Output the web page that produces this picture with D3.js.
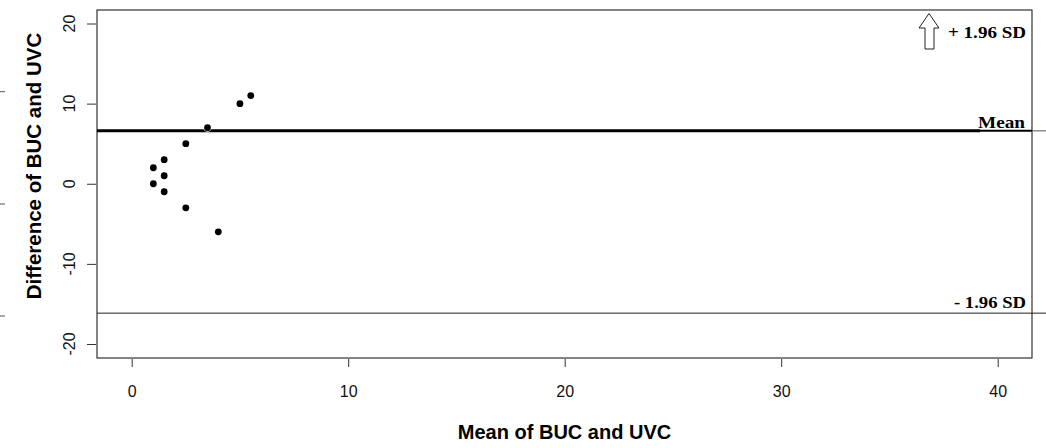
<!DOCTYPE html>
<html>
<head>
<meta charset="utf-8">
<script src="https://cdn.jsdelivr.net/npm/d3@7"></script>
<style>
  body { margin: 0; background: #fff; }
  svg { display: block; }
</style>
</head>
<body>
<svg id="chart"></svg>
<script>
// Bland-Altman points: mean of BUC and UVC vs. their difference
const meanVals = [1, 1, 1.5, 1.5, 1.5, 2.5, 2.5, 3.5, 4, 5, 5.5]
const diffVals = [2, 0, 3, 1, -1, 5, -3, 7, -6, 10, 11]
const xTicks = [0, 10, 20, 30, 40]
const yTicks = [-20, -10, 0, 10, 20]
const meanDiff = 6.6
const lowerLimit = -16.15

const W = 1046, H = 448
const box = {left: 97, right: 1032, top: 10, bottom: 358}
const sans = '"Liberation Sans", Arial, sans-serif'
const serif = '"Liberation Serif", "Times New Roman", serif'

const svg = d3.select('#chart').attr('width', W).attr('height', H)

// scales (R-style, ticks at 0..40 and -20..20)
const x = d3.scaleLinear().domain([0, 40]).range([131.7, 997.7])
const y = d3.scaleLinear().domain([-20, 20]).range([344, 23.5])

// plot box
svg.append('rect')
  .attr('x', box.left).attr('y', box.top)
  .attr('width', box.right - box.left).attr('height', box.bottom - box.top)
  .attr('fill', 'none').attr('stroke', '#333').attr('stroke-width', 1.2)

// x axis (ticks only, no axis line)
const xAxis = svg.append('g')
  .attr('transform', 'translate(0,' + (box.bottom + 1) + ')')
  .call(d3.axisBottom(x).tickValues(xTicks).tickSize(8).tickPadding(19))
xAxis.select('.domain').remove()
xAxis.selectAll('line').attr('stroke', '#333')
xAxis.selectAll('text')
  .style('font-family', sans)
  .style('font-size', '16px').attr('fill', '#111')

// y axis, labels rotated like R's las=0
const yAxis = svg.append('g')
  .attr('transform', 'translate(' + (box.left - 1) + ',0)')
  .call(d3.axisLeft(y).tickValues(yTicks).tickSize(9).tickFormat(''))
yAxis.select('.domain').remove()
yAxis.selectAll('line').attr('stroke', '#333')
svg.append('g').selectAll('text')
  .data(yTicks)
  .join('text')
  .attr('transform', d => 'translate(74.5,' + y(d) + ') rotate(-90)')
  .attr('text-anchor', 'middle')
  .style('font-family', sans)
  .style('font-size', '16px').attr('fill', '#111')
  .text(d => d)

// stray ticks at the far left edge
svg.append('g').selectAll('line')
  .data([91.7, 204, 316])
  .join('line')
  .attr('x1', 0).attr('x2', 5)
  .attr('y1', d => d).attr('y2', d => d)
  .attr('stroke', '#555').attr('stroke-width', 1)

// mean line (thick in the plot, thin past the box)
svg.append('line')
  .attr('x1', box.left).attr('x2', 980)
  .attr('y1', y(meanDiff)).attr('y2', y(meanDiff))
  .attr('stroke', '#000').attr('stroke-width', 3)
svg.append('line')
  .attr('x1', 980).attr('x2', box.right)
  .attr('y1', y(meanDiff)).attr('y2', y(meanDiff))
  .attr('stroke', '#000').attr('stroke-width', 2)
svg.append('line')
  .attr('x1', box.right).attr('x2', W)
  .attr('y1', y(meanDiff)).attr('y2', y(meanDiff))
  .attr('stroke', '#555').attr('stroke-width', 1)

// lower limit of agreement
svg.append('line')
  .attr('x1', box.left).attr('x2', W)
  .attr('y1', y(lowerLimit)).attr('y2', y(lowerLimit))
  .attr('stroke', '#222').attr('stroke-width', 1)

// points
svg.append('g').selectAll('circle')
  .data(meanVals.map((m, i) => ({m: m, d: diffVals[i]})))
  .join('circle')
  .attr('cx', d => x(d.m))
  .attr('cy', d => y(d.d))
  .attr('r', 3.4)
  .attr('fill', '#000')
  .attr('stroke', '#fff').attr('stroke-width', 1.5)
  .attr('paint-order', 'stroke')

// labels for the limits
const limitLabels = [
  {text: '+ 1.96 SD', x: 1026, y: 38, len: 78},
  {text: 'Mean', x: 1025, y: y(meanDiff) - 3, len: 47},
  {text: '- 1.96 SD', x: 1026, y: y(lowerLimit) - 5, len: 72}
]
svg.append('g').selectAll('text')
  .data(limitLabels)
  .join('text')
  .attr('x', d => d.x).attr('y', d => d.y)
  .attr('text-anchor', 'end')
  .style('font-family', serif).style('font-weight', 'bold').style('font-size', '17px')
  .attr('textLength', d => d.len)
  .attr('lengthAdjust', 'spacingAndGlyphs')
  .text(d => d.text)

// outlined up arrow pointing to +1.96 SD (off the chart)
const arrow = d3.path()
arrow.moveTo(929, 13.5)
arrow.lineTo(939, 28)
arrow.lineTo(934, 28)
arrow.lineTo(934, 49)
arrow.lineTo(925, 49)
arrow.lineTo(925, 28)
arrow.lineTo(919, 28)
arrow.closePath()
svg.append('path')
  .attr('d', arrow.toString())
  .attr('fill', '#fff').attr('stroke', '#222').attr('stroke-width', 1)

// axis titles
svg.append('text')
  .attr('x', (box.left + box.right) / 2).attr('y', 439)
  .attr('text-anchor', 'middle')
  .style('font-family', sans)
  .style('font-weight', 'bold').style('font-size', '20px')
  .text('Mean of BUC and UVC')
svg.append('text')
  .attr('transform', 'translate(41,166) rotate(-90)')
  .attr('text-anchor', 'middle')
  .style('font-family', sans)
  .style('font-weight', 'bold').style('font-size', '20.5px')
  .text('Difference of BUC and UVC')
</script>
</body>
</html>
